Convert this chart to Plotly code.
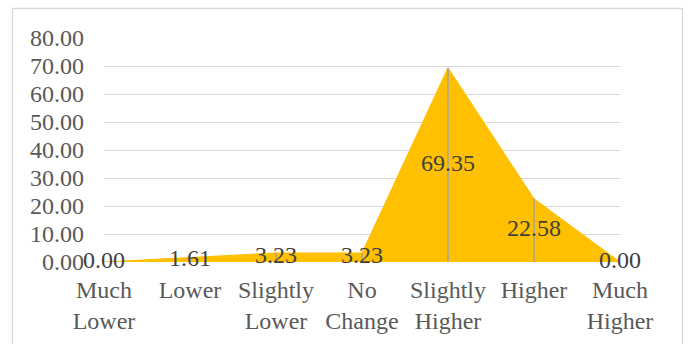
import plotly.graph_objects as go

# Survey response distribution (percent of respondents)
categories = ["Much<br>Lower", "Lower", "Slightly<br>Lower", "No<br>Change",
              "Slightly<br>Higher", "Higher", "Much<br>Higher"]
values = [0.00, 1.61, 3.23, 3.23, 69.35, 22.58, 0.00]
y_ticks = [0, 10, 20, 30, 40, 50, 60, 70, 80]

FONT = "Liberation Serif, Times New Roman, serif"
FS = 24
xs = list(range(len(categories)))

fig = go.Figure()

# Filled area
fig.add_trace(go.Scatter(
    x=xs, y=values, mode="lines", fill="tozeroy",
    fillcolor="#FFC000", line=dict(color="#FFC000", width=1),
    hoverinfo="skip", showlegend=False,
))

# Drop lines from each point down to the baseline
drop_x, drop_y = [], []
for x, v in zip(xs, values):
    drop_x += [x, x, None]
    drop_y += [0, v, None]
fig.add_trace(go.Scatter(
    x=drop_x, y=drop_y, mode="lines",
    line=dict(color="#A5A5A5", width=1.5),
    hoverinfo="skip", showlegend=False,
))

# Value labels, centred at half height of each point
fig.add_trace(go.Scatter(
    x=xs, y=[v / 2 for v in values], mode="text",
    text=[f"{v:.2f}" for v in values], textposition="middle center",
    textfont=dict(family=FONT, size=FS, color="#404040"),
    cliponaxis=False, hoverinfo="skip", showlegend=False,
))

L, R, T, B = 104, 620, 38, 262
W, H = 689, 344

def px_x(p):
    return (p - L) / (R - L)

def px_y(p):
    return (B - p) / (B - T)

fig.update_layout(
    width=W, height=H,
    margin=dict(l=L, r=W - R, t=T, b=H - B, autoexpand=False),
    paper_bgcolor="white", plot_bgcolor="white",
    font=dict(family=FONT, size=FS, color="#595959"),
    xaxis=dict(
        range=[0, len(categories) - 1], tickvals=xs, ticktext=categories,
        showgrid=False, zeroline=False, showline=False, ticks="",
        ticklabelstandoff=11,
        tickfont=dict(family=FONT, size=FS, color="#595959"),
        automargin=False, fixedrange=True,
    ),
    yaxis=dict(
        range=[0, 80], tickvals=y_ticks, ticktext=[f"{t:.2f}" for t in y_ticks],
        showgrid=True, gridcolor="#D9D9D9", gridwidth=1.3,
        zeroline=False, showline=False, ticks="",
        ticklabelstandoff=19,
        tickfont=dict(family=FONT, size=FS, color="#595959"),
        automargin=False, fixedrange=True,
    ),
    shapes=[dict(
        type="rect", xref="paper", yref="paper",
        x0=px_x(12.5), x1=px_x(682.5), y0=px_y(360), y1=px_y(8.5),
        line=dict(color="#D9D9D9", width=1.3), fillcolor="rgba(0,0,0,0)",
        layer="below",
    )],
)

fig.write_html("out.html")
